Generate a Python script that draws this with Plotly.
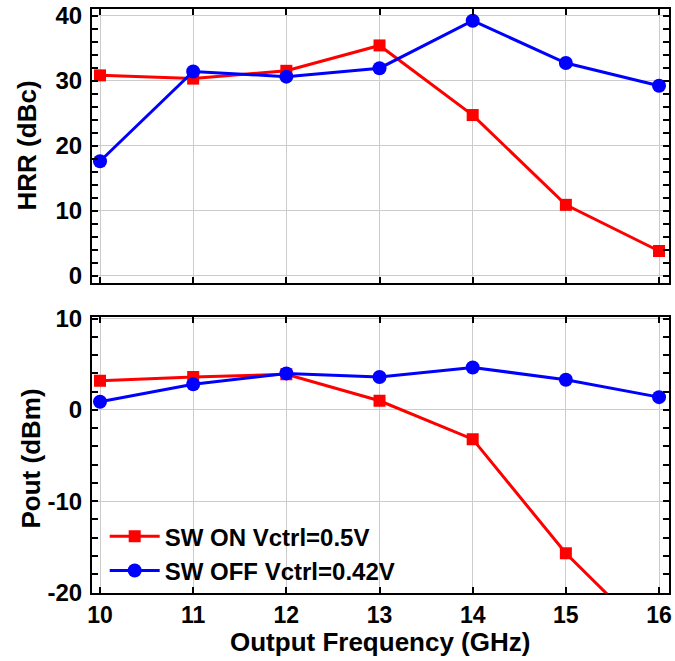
import plotly.graph_objects as go

# Output frequency sweep (GHz)
freq = [10, 11, 12, 13, 14, 15, 16]

# Harmonic rejection ratio (dBc)
hrr_on = [30.8, 30.3, 31.5, 35.4, 24.7, 10.9, 3.8]
hrr_off = [17.6, 31.4, 30.6, 31.9, 39.2, 32.7, 29.2]

# Output power (dBm)
pout_on = [3.2, 3.6, 3.9, 1.0, -3.2, -15.7, -25.8]
pout_off = [0.9, 2.8, 4.0, 3.6, 4.65, 3.3, 1.4]

# Tick positions
hrr_ticks = [0, 10, 20, 30, 40]
pout_ticks = [-20, -10, 0, 10]

name_on = "SW ON Vctrl=0.5V"
name_off = "SW OFF Vctrl=0.42V"

RED = "#ff0000"
BLUE = "#0000ff"
FONT = "Liberation Sans, Arial, sans-serif"


def bold(values):
    return [f"<b>{v}</b>" for v in values]


fig = go.Figure()

fig.add_trace(go.Scatter(x=freq, y=hrr_on, mode="lines+markers", name=bold([name_on])[0],
                         line=dict(color=RED, width=3),
                         marker=dict(symbol="square", size=12, color=RED),
                         xaxis="x", yaxis="y", showlegend=False))
fig.add_trace(go.Scatter(x=freq, y=hrr_off, mode="lines+markers", name=bold([name_off])[0],
                         line=dict(color=BLUE, width=3),
                         marker=dict(symbol="circle", size=14, color=BLUE),
                         xaxis="x", yaxis="y", showlegend=False))
fig.add_trace(go.Scatter(x=freq, y=pout_on, mode="lines+markers", name=bold([name_on])[0],
                         line=dict(color=RED, width=3),
                         marker=dict(symbol="square", size=12, color=RED),
                         xaxis="x2", yaxis="y2"))
fig.add_trace(go.Scatter(x=freq, y=pout_off, mode="lines+markers", name=bold([name_off])[0],
                         line=dict(color=BLUE, width=3),
                         marker=dict(symbol="circle", size=14, color=BLUE),
                         xaxis="x2", yaxis="y2"))

tick_font = dict(family=FONT, size=24, color="black", weight=700)
xtick_font = dict(family=FONT, size=23, color="black", weight=700)

common_x = dict(range=[9.914, 16.107], tickvals=freq, showgrid=True,
                gridcolor="#cccccc", gridwidth=1, zeroline=False, automargin=False,
                showline=True, linecolor="black", linewidth=2, mirror="allticks",
                ticks="inside", ticklen=6, tickwidth=1.5, tickcolor="black")
common_y = dict(showgrid=True, gridcolor="#cccccc", gridwidth=1, zeroline=False,
                automargin=False, ticklabelstandoff=3,
                showline=True, linecolor="black", linewidth=2, mirror="allticks",
                ticks="inside", ticklen=6, tickwidth=1.5, tickcolor="black",
                tickfont=tick_font,
                minor=dict(ticks="inside", ticklen=6, tickwidth=1.5,
                           tickcolor="black", showgrid=False))

fig.update_layout(
    width=675, height=661,
    margin=dict(l=92, r=6, t=9, b=68),
    paper_bgcolor="white", plot_bgcolor="white",
    xaxis=dict(**common_x, anchor="y", showticklabels=False, matches="x2"),
    yaxis=dict(**common_y, domain=[0.531, 1.0], range=[-1.1, 41],
               tickvals=hrr_ticks, ticktext=bold(hrr_ticks)),
    xaxis2=dict(**common_x, anchor="y2", tickfont=xtick_font, ticktext=bold(freq),
                ticklabelstandoff=0),
    yaxis2=dict(**common_y, domain=[0.0, 0.473], range=[-20.05, 10.2],
                tickvals=pout_ticks, ticktext=bold(pout_ticks)),
    legend=dict(x=0.022, y=0.135, xanchor="left", yanchor="top",
                bgcolor="rgba(0,0,0,0)",
                font=dict(family=FONT, size=24, color="black", weight=700),
                tracegroupgap=0, itemwidth=50),
    showlegend=True,
)

# Axis titles
title_common = dict(xref="paper", yref="paper", showarrow=False,
                    xanchor="center", yanchor="middle")
fig.add_annotation(text="<b>HRR (dBc)</b>", x=-0.112, y=0.767, textangle=-90,
                   font=dict(family=FONT, size=26, color="black"), **title_common)
fig.add_annotation(text="<b>Pout (dBm)</b>", x=-0.106, y=0.23, textangle=-90,
                   font=dict(family=FONT, size=26, color="black"), **title_common)
fig.add_annotation(text="<b>Output Frequency (GHz)</b>", x=0.499, y=-0.084,
                   font=dict(family=FONT, size=26, color="black"), **title_common)

fig.write_html("out.html")
